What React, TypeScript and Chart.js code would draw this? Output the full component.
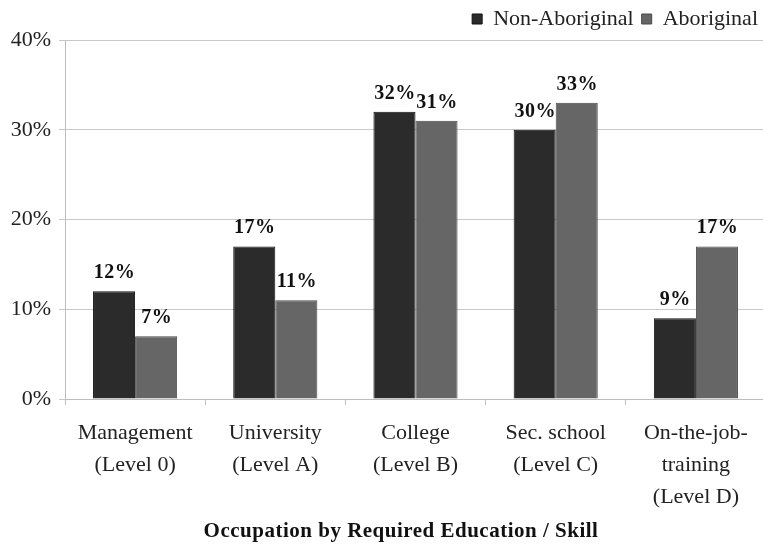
import React, { useEffect, useRef } from 'react';
import { Chart, registerables } from 'chart.js';

Chart.register(...registerables);

const SERIF = "'Liberation Serif', 'Times New Roman', serif";

const categories: string[][] = [
  ['Management', '(Level 0)'],
  ['University', '(Level A)'],
  ['College', '(Level B)'],
  ['Sec. school', '(Level C)'],
  ['On-the-job-', 'training', '(Level D)'],
];
const nonAboriginal = [12, 17, 32, 30, 9];
const aboriginal = [7, 11, 31, 33, 17];
const seriesNames = ['Non-Aboriginal', 'Aboriginal'];
const axisTitle = 'Occupation by Required Education / Skill';
const yMin = 0;
const yMax = 40;
const yStep = 10;

const valueLabels = {
  id: 'valueLabels',
  afterDatasetsDraw(chart: any) {
    const ctx = chart.ctx;
    ctx.save();
    ctx.font = `bold 20px ${SERIF}`;
    (ctx as any).letterSpacing = '0.5px';
    ctx.fillStyle = '#111';
    ctx.textAlign = 'center';
    ctx.textBaseline = 'alphabetic';
    chart.data.datasets.forEach((ds: any, di: number) => {
      const meta = chart.getDatasetMeta(di);
      meta.data.forEach((el: any, i: number) => {
        ctx.fillText(ds.data[i] + '%', el.x + 0.5, el.y - 13);
      });
    });
    ctx.restore();
  },
};

const axisTitlePlugin = {
  id: 'axisTitlePlugin',
  afterDraw(chart: any) {
    const ctx = chart.ctx;
    ctx.save();
    ctx.font = `bold 21px ${SERIF}`;
    (ctx as any).letterSpacing = '0.5px';
    ctx.fillStyle = '#111';
    ctx.textAlign = 'center';
    ctx.textBaseline = 'alphabetic';
    ctx.fillText(axisTitle, 401, 537);
    ctx.restore();
  },
};

export default function App() {
  const ref = useRef<HTMLCanvasElement>(null);
  useEffect(() => {
    if (!ref.current) return;
    const chart = new Chart(ref.current, {
      type: 'bar',
      data: {
        labels: categories,
        datasets: [
          {
            label: seriesNames[0],
            data: nonAboriginal,
            backgroundColor: '#2b2b2b',
            borderColor: '#111111',
            borderWidth: 1,
            categoryPercentage: 0.6,
            barPercentage: 1.0,
          },
          {
            label: seriesNames[1],
            data: aboriginal,
            backgroundColor: '#666666',
            borderColor: '#4a4a4a',
            borderWidth: 1,
            categoryPercentage: 0.6,
            barPercentage: 1.0,
          },
        ],
      },
      options: {
        animation: false,
        responsive: false,
        maintainAspectRatio: false,
        layout: { padding: { top: 0, right: 4, bottom: 0, left: 1 } },
        plugins: {
          legend: {
            position: 'top',
            align: 'end',
            labels: {
              boxWidth: 10,
              boxHeight: 10,
              padding: 8,
              color: '#222',
              font: { family: SERIF, size: 22 },
            },
          },
          tooltip: { enabled: false },
        },
        scales: {
          x: {
            grid: {
              offset: true,
              drawOnChartArea: false,
              drawTicks: true,
              tickLength: 6,
              color: '#bdbdbd',
            },
            border: { color: '#bdbdbd' },
            ticks: {
              color: '#222',
              font: { family: SERIF, size: 22, lineHeight: 1.45 },
              padding: 12,
              maxRotation: 0,
              autoSkip: false,
            },
            title: { display: false, text: axisTitle },
            afterFit: (s: any) => {
              s.height = 145;
            },
          },
          y: {
            min: yMin,
            max: yMax,
            ticks: {
              stepSize: yStep,
              callback: (v: any) => v + '%',
              padding: 8,
              color: '#222',
              font: { family: SERIF, size: 22 },
            },
            grid: { color: '#c8c8c8', tickLength: 6 },
            border: { color: '#bdbdbd' },
            afterFit: (s: any) => {
              s.width = 64;
            },
          },
        },
      } as any,
      plugins: [valueLabels, axisTitlePlugin],
    });
    return () => chart.destroy();
  }, []);

  return (
    <div
      style={{
        position: 'absolute',
        left: 0,
        top: 0,
        width: 763,
        height: 544,
        overflow: 'hidden',
        background: '#fff',
      }}
    >
      <canvas ref={ref} width={770} height={544} style={{ display: 'block' }} />
    </div>
  );
}
